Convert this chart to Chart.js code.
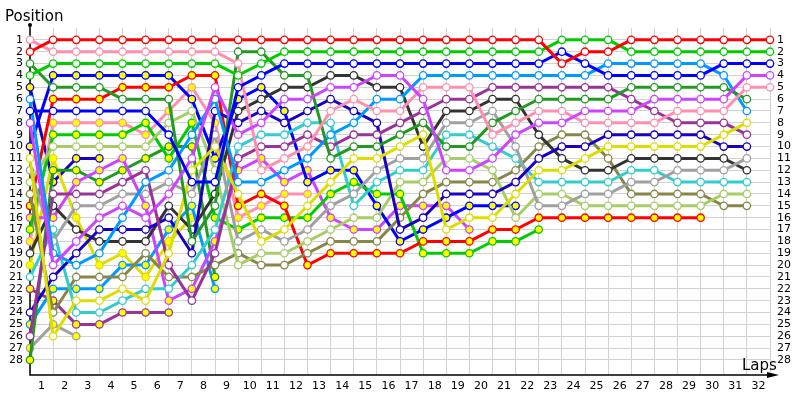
<!DOCTYPE html>
<html>
<head>
<meta charset="utf-8">
<title>Lap chart</title>
<script src="https://cdn.jsdelivr.net/npm/chart.js@4/dist/chart.umd.min.js"></script>
<style>
  html, body { margin: 0; padding: 0; background: #fff; }
</style>
</head>
<body>
<canvas id="lapChart" width="800" height="400"></canvas>
<script>
// laps (x) and the position rows (y)
const laps = [0, 1, 2, 3, 4, 5, 6, 7, 8, 9, 10, 11, 12, 13, 14, 15, 16, 17, 18, 19, 20,
    21, 22, 23, 24, 25, 26, 27, 28, 29, 30, 31, 32];
const lapLabels = ['1', '2', '3', '4', '5', '6', '7', '8', '9', '10', '11', '12', '13', '14', '15', '16',
    '17', '18', '19', '20', '21', '22', '23', '24', '25', '26', '27', '28', '29', '30', '31', '32'];
const positions = [1, 2, 3, 4, 5, 6, 7, 8, 9, 10, 11, 12, 13, 14, 15, 16, 17, 18, 19, 20,
    21, 22, 23, 24, 25, 26, 27, 28];

// position of each car at lap 0..n (array stops when the car stops)
const redCar = [2, 1, 1, 1, 1, 1, 1, 1, 1, 1, 1, 1, 1, 1, 1, 1, 1, 1, 1, 1, 1, 1, 1, 3, 2, 2, 1, 1, 1, 1, 1, 1, 1];
const greenCar = [4, 3, 3, 3, 3, 3, 3, 3, 3, 4, 3, 2, 2, 2, 2, 2, 2, 2, 2, 2, 2, 2, 2, 1, 1, 1, 2, 2, 2, 2, 2, 2, 2];
const blueCar = [7, 7, 7, 7, 7, 7, 9, 13, 13, 5, 4, 3, 3, 3, 3, 3, 3, 3, 3, 3, 3, 3, 3, 2, 3, 4, 4, 4, 4, 4, 3, 3, 3];
const violetCar = [8, 20, 18, 16, 15, 16, 14, 11, 5, 9, 8, 6, 6, 5, 5, 4, 4, 6, 12, 12, 11, 9, 8, 8, 7, 7, 7, 6, 6, 6, 6, 4, 4];
const pinkCar = [1, 2, 2, 2, 2, 2, 2, 2, 2, 3, 12, 11, 10, 7, 6, 7, 7, 5, 5, 5, 9, 8, 7, 7, 8, 8, 8, 8, 7, 7, 7, 5, 5];
const darkGreenCar = [3, 5, 5, 5, 6, 6, 6, 18, 15, 2, 2, 4, 4, 11, 10, 10, 9, 8, 10, 10, 8, 7, 6, 6, 6, 6, 5, 5, 5, 5, 5, 6];
const lightBlueCar = [6, 19, 20, 19, 16, 13, 12, 9, 6, 13, 13, 12, 11, 9, 8, 6, 6, 4, 4, 4, 4, 4, 4, 4, 4, 3, 3, 3, 3, 3, 4, 7];
const yellowCar = [11, 26, 23, 23, 22, 23, 19, 12, 10, 14, 18, 17, 15, 13, 11, 11, 10, 9, 17, 16, 16, 14, 12, 12, 11, 10, 10, 10, 10, 10, 9, 8];
const purpleCar = [26, 14, 14, 14, 13, 12, 20, 23, 19, 11, 10, 10, 9, 10, 9, 9, 8, 7, 6, 6, 5, 5, 5, 5, 5, 5, 6, 7, 8, 8, 8, 9];
const navyCar = [24, 21, 19, 17, 17, 17, 16, 19, 7, 8, 7, 8, 7, 6, 7, 8, 17, 16, 14, 14, 14, 13, 11, 10, 10, 9, 9, 9, 9, 9, 10, 10];
const grayCar = [12, 18, 15, 15, 14, 14, 13, 14, 9, 18, 17, 18, 17, 15, 14, 12, 11, 11, 8, 8, 7, 10, 15, 15, 14, 14, 13, 13, 12, 12, 12, 11];
const darkGrayCar = [19, 15, 17, 18, 18, 18, 15, 17, 14, 7, 6, 5, 5, 4, 4, 5, 5, 10, 7, 7, 6, 6, 9, 11, 12, 12, 11, 11, 11, 11, 11, 12];
const cyanCar = [21, 17, 24, 24, 23, 22, 22, 20, 17, 10, 9, 9, 8, 8, 15, 13, 12, 12, 9, 9, 10, 11, 13, 13, 13, 13, 12, 12, 13, 13, 13, 13];
const limeCar = [13, 10, 10, 10, 10, 10, 8, 7, 12, 20, 19, 19, 18, 17, 16, 16, 13, 13, 11, 11, 12, 16, 14, 14, 15, 15, 15, 15, 15, 15, 14, 14];
const oliveCar = [14, 24, 21, 21, 21, 19, 21, 21, 20, 19, 20, 20, 19, 18, 18, 18, 16, 14, 13, 13, 13, 12, 10, 9, 9, 11, 14, 14, 14, 14, 15, 15];
const redCar2 = [15, 6, 6, 6, 5, 5, 5, 4, 4, 15, 14, 15, 20, 19, 19, 19, 19, 18, 18, 18, 17, 17, 16, 16, 16, 16, 16, 16, 16, 16];
const greenCar2 = [17, 9, 9, 9, 9, 8, 11, 8, 16, 17, 16, 16, 16, 14, 13, 14, 14, 19, 19, 19, 18, 18, 17];
const blueCar2 = [10, 4, 4, 4, 4, 4, 4, 6, 11, 6, 5, 7, 13, 12, 12, 15, 18, 17, 16, 15, 15, 15];
const violetCar2 = [16, 16, 13, 12, 11, 15, 23, 22, 18, 12, 11, 13, 12, 16, 17, 17, 15, 15, 15, 17];
const pinkCar2 = [18, 8, 8, 8, 8, 9, 7, 5, 8, 16, 15, 14, 14];
const darkGreenCar2 = [28, 12, 12, 13, 12, 11, 10, 10, 21];
const lightBlueCar2 = [25, 22, 22, 22, 20, 20, 17, 15, 22];
const yellowCar2 = [20, 11, 16, 20, 19, 21, 18, 16];
const purpleCar2 = [22, 23, 25, 25, 24, 24, 24];
const navyCar2 = [5, 13, 11, 11];
const grayCar2 = [27, 25, 26];

const WHITE = '#ffffff';
const YELLOW = '#ffff00';

// first one is drawn on top
const cars = [
    { data: redCar, color: '#ff0000', fill: WHITE },
    { data: greenCar, color: '#00cc00', fill: WHITE },
    { data: blueCar, color: '#0000ff', fill: WHITE },
    { data: violetCar, color: '#cc44ff', fill: WHITE },
    { data: pinkCar, color: '#ff8faf', fill: WHITE },
    { data: darkGreenCar, color: '#229922', fill: WHITE },
    { data: lightBlueCar, color: '#0099ff', fill: WHITE },
    { data: yellowCar, color: '#dddd00', fill: WHITE },
    { data: purpleCar, color: '#993399', fill: WHITE },
    { data: navyCar, color: '#1a00c0', fill: WHITE },
    { data: grayCar, color: '#a0a0a0', fill: WHITE },
    { data: darkGrayCar, color: '#333333', fill: WHITE },
    { data: cyanCar, color: '#33cccc', fill: WHITE },
    { data: limeCar, color: '#a8cc66', fill: WHITE },
    { data: oliveCar, color: '#868648', fill: WHITE },
    { data: redCar2, color: '#ff0000', fill: YELLOW },
    { data: greenCar2, color: '#00cc00', fill: YELLOW },
    { data: blueCar2, color: '#0000ff', fill: YELLOW },
    { data: violetCar2, color: '#cc44ff', fill: YELLOW },
    { data: pinkCar2, color: '#ff8faf', fill: YELLOW },
    { data: darkGreenCar2, color: '#229922', fill: YELLOW },
    { data: lightBlueCar2, color: '#0099ff', fill: YELLOW },
    { data: yellowCar2, color: '#dddd00', fill: YELLOW },
    { data: purpleCar2, color: '#993399', fill: YELLOW },
    { data: navyCar2, color: '#1a00c0', fill: YELLOW },
    { data: grayCar2, color: '#a0a0a0', fill: YELLOW }
];

function toPoints(pos) {
    const pts = [];
    pos.forEach((p, i) => {
        if (p != null) pts.push({ x: laps[i], y: p });
    });
    return pts;
}

const datasets = cars.map(c => ({
    data: toPoints(c.data),
    borderColor: c.color,
    borderWidth: 3,
    pointRadius: 3.7,
    pointBorderWidth: 1.3,
    pointBorderColor: c.color,
    pointBackgroundColor: c.fill,
    tension: 0,
    fill: false,
    clip: false
}));

// half-lap ticks: gridlines on whole laps, labels in between
const xTicks = [];
for (let v = 0; v <= 32; v += 0.5) xTicks.push(v);

const GRID = '#d2d2d2';
const tickFont = { family: 'DejaVu Sans', size: 11 };

const axisDecor = {
    id: 'axisDecor',
    beforeDatasetsDraw(chart) {
        const { ctx, chartArea: a } = chart;
        ctx.save();
        ctx.strokeStyle = '#000';
        ctx.fillStyle = '#000';
        ctx.lineWidth = 1.5;
        ctx.beginPath();
        ctx.moveTo(a.left, a.top - 3);
        ctx.lineTo(a.left, a.bottom);
        ctx.lineTo(a.right + 4, a.bottom);
        ctx.stroke();
        ctx.beginPath();
        ctx.moveTo(a.right + 9, a.bottom);
        ctx.lineTo(a.right - 3, a.bottom - 3);
        ctx.lineTo(a.right - 3, a.bottom + 3);
        ctx.closePath();
        ctx.fill();
        ctx.beginPath();
        ctx.arc(a.left, a.top - 3, 2, 0, Math.PI * 2);
        ctx.fill();
        ctx.restore();
    },
    afterDraw(chart) {
        const ctx = chart.ctx;
        ctx.save();
        ctx.fillStyle = '#000';
        ctx.font = '15px "DejaVu Sans"';
        ctx.textBaseline = 'alphabetic';
        ctx.fillText('Position', 5, 21);
        ctx.fillText('Laps', 742, 370);
        ctx.restore();
    }
};

new Chart(document.getElementById('lapChart'), {
    type: 'line',
    data: { datasets: datasets },
    plugins: [axisDecor],
    options: {
        responsive: false,
        animation: false,
        devicePixelRatio: 1,
        layout: { padding: { top: 28, left: 0, right: 0, bottom: 0 } },
        plugins: {
            legend: { display: false },
            tooltip: { enabled: false }
        },
        scales: {
            x: {
                type: 'linear',
                min: 0,
                max: 32,
                afterBuildTicks: s => { s.ticks = xTicks.map(v => ({ value: v })); },
                afterFit: s => { s.height = 25; },
                ticks: {
                    autoSkip: false,
                    maxRotation: 0,
                    padding: 5,
                    color: '#000',
                    font: tickFont,
                    callback: v => Number.isInteger(v) ? '' : lapLabels[Math.floor(v)]
                },
                grid: {
                    color: ctx => Number.isInteger(ctx.tick.value) ? GRID : 'rgba(0,0,0,0)',
                    drawTicks: false
                },
                border: { display: false }
            },
            y: {
                type: 'linear',
                reverse: true,
                min: 0,
                max: 29.27,
                afterBuildTicks: s => { s.ticks = positions.map(v => ({ value: v })); },
                afterFit: s => { s.width = 30; },
                ticks: { autoSkip: false, padding: 7, color: '#000', font: tickFont },
                grid: { color: GRID, drawTicks: false },
                border: { display: false }
            },
            y2: {
                type: 'linear',
                position: 'right',
                reverse: true,
                min: 0,
                max: 29.27,
                afterBuildTicks: s => { s.ticks = positions.map(v => ({ value: v })); },
                afterFit: s => { s.width = 30; },
                ticks: { autoSkip: false, padding: 7, color: '#000', font: tickFont },
                grid: { display: false, drawTicks: false },
                border: { display: false }
            }
        }
    }
});
</script>
</body>
</html>
